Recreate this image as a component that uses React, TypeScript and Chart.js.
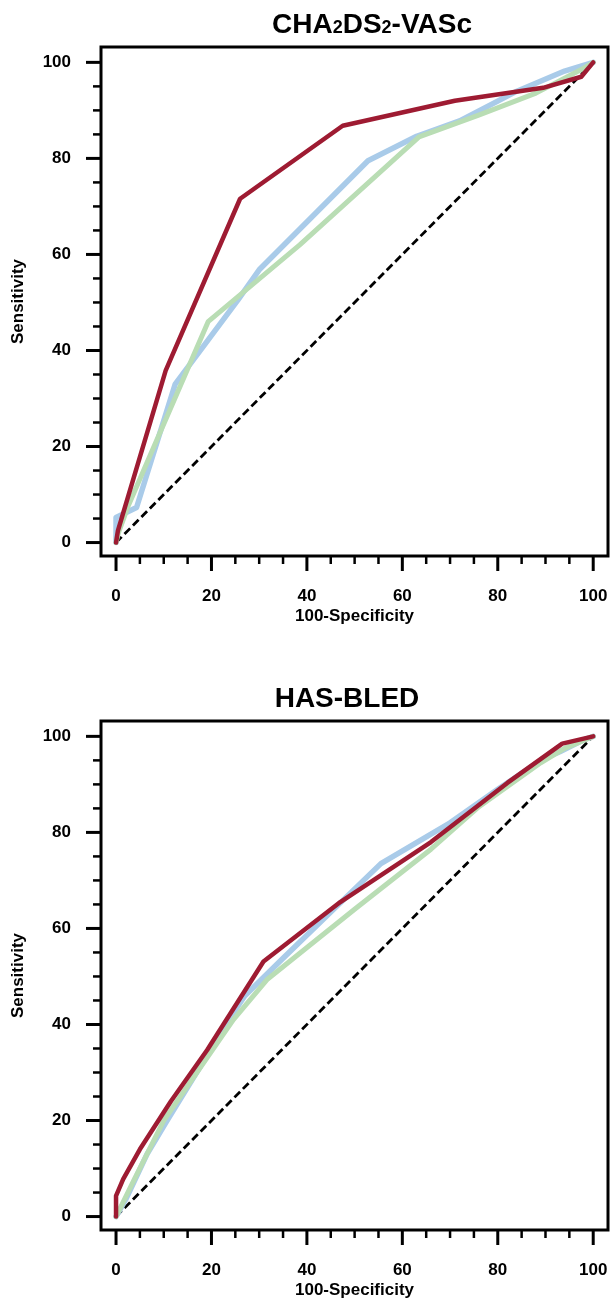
import React, { useEffect, useRef } from 'react';
import { Chart, registerables } from 'chart.js';

Chart.register(...registerables);

// ---- shared axis ticks ----
const tickValues = [0, 5, 10, 15, 20, 25, 30, 35, 40, 45, 50, 55, 60, 65, 70, 75, 80, 85, 90, 95, 100];
const majorTickLabels = [0, 20, 40, 60, 80, 100];
const diagonalX = [0, 100];
const diagonalY = [0, 100];

// ---- CHA2DS2-VASc ----
const chaRedX = [0, 0.4, 10.4, 26, 47.5, 71, 89.5, 97.5, 100];
const chaRedY = [0, 2.5, 35.8, 71.6, 86.8, 92, 94.7, 97, 100];
const chaBlueX = [0, 0, 4.3, 12.4, 25.6, 30, 52.8, 63, 72, 84, 94, 100];
const chaBlueY = [0, 5.2, 7.3, 33, 50.6, 56.8, 79.5, 84.6, 87.8, 94, 98.2, 100];
const chaGreenX = [0, 0.5, 2.5, 19.3, 26.5, 38.5, 63.5, 76, 88, 97.5, 100];
const chaGreenY = [0, 2, 7.5, 46, 52, 62, 84.5, 89, 93.6, 98.5, 100];

// ---- HAS-BLED ----
const hasRedX = [0, 0, 1.5, 5, 11.5, 19.1, 30.9, 47, 66, 82, 93.5, 100];
const hasRedY = [0, 4.3, 7.8, 14, 24, 34.7, 53.1, 65.5, 78, 90.3, 98.5, 100];
const hasBlueX = [0, 2, 6.5, 10.7, 24, 27, 35, 55.5, 70, 80, 89.5, 93, 98, 100];
const hasBlueY = [0, 3.5, 13, 20, 41.5, 46, 53.8, 73.5, 82, 89, 95.3, 96.8, 99.3, 100];
const hasGreenX = [0, 3.7, 10, 24.6, 31.6, 50, 66, 76, 89, 94, 100];
const hasGreenY = [0, 7.5, 20, 41, 49.3, 64, 76.5, 85.3, 94.5, 97.5, 100];

const RED = '#9e1b32';
const BLUE = '#a9cbe9';
const GREEN = '#b9ddb4';
const FONT = "'Liberation Sans', Arial, Helvetica, sans-serif";

type Seg = { t: string; sub?: boolean };

const zip = (xs: number[], ys: number[]) => xs.map((x, i) => ({ x, y: ys[i] }));

function makePlugin(segments: Seg[], cx: number, baseline: number) {
  return {
    id: 'frameTicksTitle',
    afterDraw(chart: any) {
      const { ctx, chartArea: a, scales } = chart;
      const xs = scales.x;
      const ys = scales.y;
      ctx.save();
      ctx.strokeStyle = '#000';
      ctx.lineCap = 'butt';
      ctx.lineWidth = 3;
      ctx.strokeRect(a.left, a.top, a.right - a.left, a.bottom - a.top);
      for (const v of tickValues) {
        const major = v % 20 === 0;
        const len = major ? 15 : 8;
        ctx.lineWidth = major ? 3 : 2.5;
        const px = xs.getPixelForValue(v);
        ctx.beginPath();
        ctx.moveTo(px, a.bottom);
        ctx.lineTo(px, a.bottom + len);
        ctx.stroke();
        const py = ys.getPixelForValue(v);
        ctx.beginPath();
        ctx.moveTo(a.left, py);
        ctx.lineTo(a.left - len, py);
        ctx.stroke();
      }
      // title with subscripts
      ctx.fillStyle = '#000';
      ctx.textBaseline = 'alphabetic';
      ctx.textAlign = 'left';
      const big = `bold 28px ${FONT}`;
      const small = `bold 18px ${FONT}`;
      let total = 0;
      for (const s of segments) {
        ctx.font = s.sub ? small : big;
        total += ctx.measureText(s.t).width;
      }
      let x = cx - total / 2;
      for (const s of segments) {
        ctx.font = s.sub ? small : big;
        ctx.fillText(s.t, x, baseline);
        x += ctx.measureText(s.t).width;
      }
      ctx.restore();
    },
  };
}

function noPad(s: any) {
  s.paddingLeft = 0;
  s.paddingRight = 0;
  s.paddingTop = 0;
  s.paddingBottom = 0;
}

function buildConfig(
  redX: number[], redY: number[],
  blueX: number[], blueY: number[],
  greenX: number[], greenY: number[],
  plugin: any
): any {
  return {
    type: 'line',
    data: {
      datasets: [
        { label: 'Red', data: zip(redX, redY), borderColor: RED, borderWidth: 4.5 },
        { label: 'Green', data: zip(greenX, greenY), borderColor: GREEN, borderWidth: 5 },
        { label: 'Blue', data: zip(blueX, blueY), borderColor: BLUE, borderWidth: 5.5 },
        {
          label: 'Reference',
          data: zip(diagonalX, diagonalY),
          borderColor: '#000',
          borderWidth: 2.8,
          borderDash: [8, 4],
          borderCapStyle: 'butt',
        },
      ],
    },
    options: {
      animation: false,
      responsive: false,
      maintainAspectRatio: false,
      elements: {
        point: { radius: 0, hoverRadius: 0 },
        line: { tension: 0, borderJoinStyle: 'round', borderCapStyle: 'round', fill: false },
      },
      layout: { padding: { top: 47, right: 3, left: 0, bottom: 0 } },
      plugins: {
        legend: { display: false },
        tooltip: { enabled: false },
        title: { display: false },
      },
      scales: {
        x: {
          type: 'linear',
          min: -3.15,
          max: 103.1,
          grid: { display: false },
          border: { display: false },
          afterBuildTicks: (s: any) => {
            s.ticks = tickValues.map((v) => ({ value: v }));
          },
          ticks: {
            autoSkip: false,
            maxRotation: 0,
            padding: 22,
            color: '#000',
            font: { family: FONT, size: 17, weight: 'bold' },
            callback: (v: any) => (majorTickLabels.includes(v) ? String(v) : ''),
          },
          title: {
            display: true,
            text: '100-Specificity',
            color: '#000',
            font: { family: FONT, size: 17, weight: 'bold' },
            padding: { top: 0, bottom: 1 },
          },
          afterFit: (s: any) => {
            s.height = 72;
            noPad(s);
          },
        },
        y: {
          type: 'linear',
          min: -2.8,
          max: 103.2,
          grid: { display: false },
          border: { display: false },
          afterBuildTicks: (s: any) => {
            s.ticks = tickValues.map((v) => ({ value: v }));
          },
          ticks: {
            autoSkip: false,
            padding: 22,
            color: '#000',
            font: { family: FONT, size: 17, weight: 'bold' },
            callback: (v: any) => (majorTickLabels.includes(v) ? String(v) : ''),
          },
          title: {
            display: true,
            text: 'Sensitivity',
            color: '#000',
            font: { family: FONT, size: 17, weight: 'bold' },
            padding: { top: 8, bottom: 0 },
          },
          afterFit: (s: any) => {
            s.width = 101;
            noPad(s);
          },
        },
      },
    },
    plugins: [plugin],
  };
}

function RocChart(props: { config: () => any; top: number }) {
  const ref = useRef<HTMLCanvasElement | null>(null);
  useEffect(() => {
    if (!ref.current) return;
    const chart = new Chart(ref.current, props.config());
    return () => chart.destroy();
  }, []);
  return (
    <canvas
      ref={ref}
      width={611}
      height={628}
      style={{ position: 'absolute', left: 0, top: props.top, width: 611, height: 628 }}
    />
  );
}

export default function App() {
  const chaConfig = () =>
    buildConfig(
      chaRedX, chaRedY, chaBlueX, chaBlueY, chaGreenX, chaGreenY,
      makePlugin(
        [{ t: 'CHA' }, { t: '2', sub: true }, { t: 'DS' }, { t: '2', sub: true }, { t: '-VASc' }],
        372,
        33
      )
    );
  const hasConfig = () =>
    buildConfig(
      hasRedX, hasRedY, hasBlueX, hasBlueY, hasGreenX, hasGreenY,
      makePlugin([{ t: 'HAS-BLED' }], 347, 33)
    );
  return (
    <div style={{ position: 'absolute', left: 0, top: 0, width: 611, height: 1302, background: '#fff' }}>
      <RocChart config={chaConfig} top={0} />
      <RocChart config={hasConfig} top={674} />
    </div>
  );
}
